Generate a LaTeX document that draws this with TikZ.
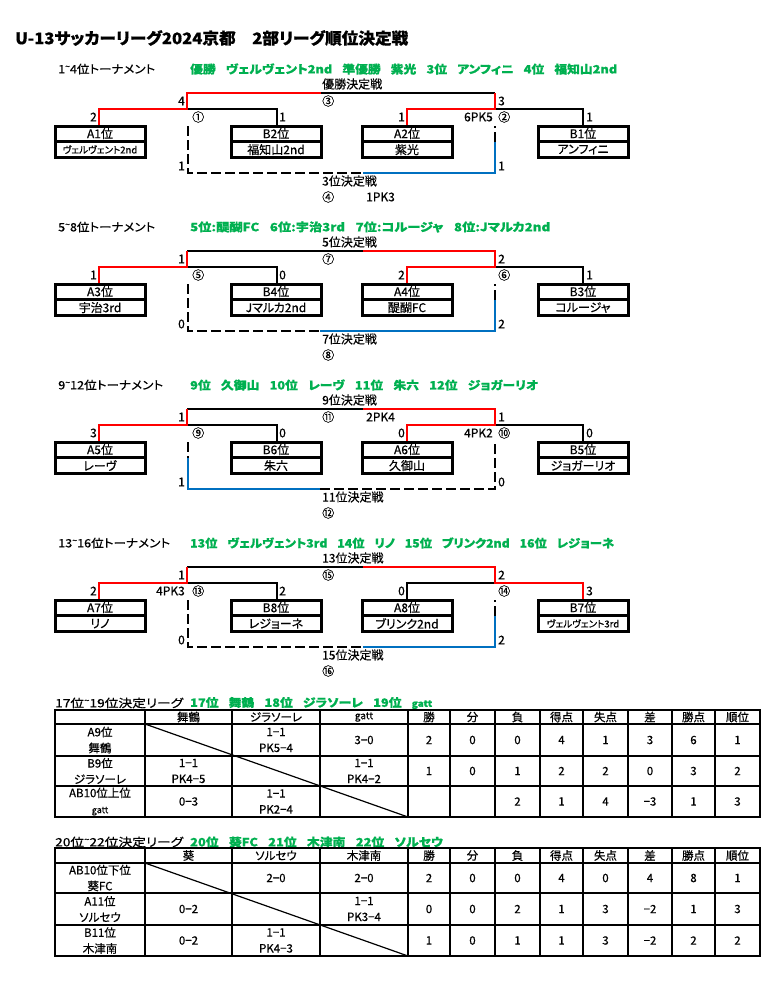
\documentclass[tikz,border=0pt]{standalone}
\usepackage{graphicx}
\usepackage{fontspec}
\setmainfont{Noto Sans CJK JP}[RawFeature={+palt}, FakeBold=0.5]
\definecolor{grn}{RGB}{0,176,80}
\definecolor{blu}{RGB}{0,112,192}
\definecolor{rd}{RGB}{255,0,0}
\newcommand\fs[1]{\fontsize{#1}{#1}\selectfont}
\newcommand\fsb{\fontsize{11.5}{16}\selectfont}
\newcommand\fitw[2]{\sbox0{#2}\pgfmathsetmacro\fitr{#1/(\the\wd0)}\scalebox{\fitr}[1]{\usebox0}}
\newcommand\tld{\raisebox{0.35em}{\fs{8}\char"007E}}
\newcommand\gsp{\hspace{0.8em}}
\newcommand\teambox[5]{%
  \draw[bx] (#2,126) rectangle ++(90,31);
  \draw[bx] (#2,141.5) -- ++(90,0);
  \node[sc] (#1l) at (#2+45,133.6) {#3};
  \node[sc,font=#5] (#1t) at (#2+45,149.6) {#4};
}
\newcommand\statrow[9]{%
  \node[tc] at (429,#1) {#2}; \node[tc] at (472.5,#1) {#3};
  \node[tc] at (517.5,#1) {#4}; \node[tc] at (561.5,#1) {#5};
  \node[tc] at (605.5,#1) {#6}; \node[tc] at (650,#1) {#7};
  \node[tc] at (693.5,#1) {#8}; \node[tc] at (737.5,#1) {#9};
}
\newcommand\gridtable[5]{%
  \foreach \xx in {145,232,320,408,450,495,540,583,628,672,715}
    \draw[tline] (\xx,#1) -- (\xx,#5);
  \foreach \yy in {#2,#3,#4} \draw[tline] (55,\yy) -- (760,\yy);
  \draw[touter] (55,#1) rectangle (760,#5);
  \draw[dline] (145,#2) -- (408,#5);
}
\tikzset{
  blk/.style={line width=1.7pt},
  win/.style={line width=2.8pt, draw=rd},
  thr/.style={line width=1.5pt, draw=blu},
  dsh/.style={line width=2.4pt, dash pattern=on 10pt off 4pt},
  bx/.style={line width=3pt},
  sc/.style={inner sep=0pt, font=\fs{12}},
  hd/.style={inner sep=0pt, anchor=west, font=\fs{11.5}},
  gh/.style={inner sep=0pt, anchor=west, font=\bfseries\fs{11.5}, text=grn},
  tc/.style={inner sep=0pt, font=\fs{11.5}, align=center},
  tc2/.style={inner sep=0pt, font=\fsb, align=center},
  tline/.style={line width=1.9pt},
  touter/.style={line width=2.4pt},
  dline/.style={line width=1.2pt},
}
\begin{document}
\begin{tikzpicture}[x=1pt,y=-1pt]
\fill[white] (0,0) rectangle (770,983);
\useasboundingbox (0,0) rectangle (770,983);
\node[inner sep=0pt, anchor=west, font=\bfseries\fs{16}] (title) at (15,38)
  {\fitw{393}{U-13サッカーリーグ2024京都\hspace{1em}2部リーグ順位決定戦}};

% ---------------- block 1 ----------------
\begin{scope}
\node[hd] (h1) at (58,69) {\fitw{97}{1\tld4位トーナメント}};
\node[gh] (g1) at (190,69) {\fitw{427}{優勝\gsp ヴェルヴェント2nd\gsp 準優勝\gsp 紫光\gsp 3位\gsp アンフィニ\gsp 4位\gsp 福知山2nd}};
\draw[blk] (321,93) -- (495,93);
\draw[blk] (187,109) -- (277,109) -- (277,126);
\draw[blk] (495,109) -- (583,109) -- (583,126);
\draw[win] (99,126) -- (99,109) -- (187,109) -- (187,93) -- (321,93);
\draw[win] (407,126) -- (407,109) -- (495,109) -- (495,93);
\draw[dsh] (188,126) -- (188,173) -- (363,173);
\draw[thr] (363,173) -- (495,173) -- (495,142);
\draw[dsh] (495,142) -- (495,126);
\teambox{a1}{55}{A1位}{ヴェルヴェント2nd}{\fs{9.5}}
\teambox{b2}{231}{B2位}{福知山2nd}{\fs{12}}
\teambox{a2}{362}{A2位}{紫光}{\fs{12}}
\teambox{b1}{538}{B1位}{アンフィニ}{\fs{12}}
\node[sc,anchor=east] (f1l) at (185,101) {4};
\node[sc,anchor=west] (f1r) at (498,101) {3};
\node[sc,anchor=west] (f1n) at (322,84) {優勝決定戦};
\node[sc,anchor=west] (f1c) at (322,101) {③};
\node[sc,anchor=east] (s1a) at (97,117) {2};
\node[sc,anchor=west] (s1c) at (192,117) {①};
\node[sc,anchor=west] (s1b) at (279,117) {1};
\node[sc,anchor=east] (s1d) at (405,117) {1};
\node[sc,anchor=east] (s1p) at (493,117) {6PK5};
\node[sc,anchor=west] (s1e) at (498,117) {②};
\node[sc,anchor=west] (s1f) at (586,117) {1};
\node[sc,anchor=east] (t1l) at (185,166) {1};
\node[sc,anchor=west] (t1r) at (498,166) {1};
\node[sc,anchor=west] (t1n) at (322,181) {3位決定戦};
\node[sc,anchor=west] (t1c) at (322,197) {④};
\node[sc,anchor=west] (t1p) at (366,197) {1PK3};
\end{scope}

% ---------------- block 2 ----------------
\begin{scope}[shift={(0,158)}]
\node[hd] (h2) at (58,69) {\fitw{97}{5\tld8位トーナメント}};
\node[gh] (g2) at (190,69) {\fitw{360}{5位:醍醐FC\gsp 6位:宇治3rd\gsp 7位:コルージャ\gsp 8位:Jマルカ2nd}};
\draw[blk] (187,93) -- (363,93);
\draw[blk] (187,109) -- (277,109) -- (277,126);
\draw[blk] (495,109) -- (583,109) -- (583,126);
\draw[win] (99,126) -- (99,109) -- (187,109) -- (187,93);
\draw[win] (363,93) -- (495,93) -- (495,109) -- (407,109) -- (407,126);
\draw[dsh] (188,126) -- (188,173) -- (320,173);
\draw[thr] (320,173) -- (495,173) -- (495,142);
\draw[dsh] (495,142) -- (495,126);
\teambox{a3}{55}{A3位}{宇治3rd}{\fs{12}}
\teambox{b4}{231}{B4位}{Jマルカ2nd}{\fs{12}}
\teambox{a4}{362}{A4位}{醍醐FC}{\fs{12}}
\teambox{b3}{538}{B3位}{コルージャ}{\fs{12}}
\node[sc,anchor=east] (f2l) at (185,101) {1};
\node[sc,anchor=west] (f2r) at (498,101) {2};
\node[sc,anchor=west] (f2n) at (322,84) {5位決定戦};
\node[sc,anchor=west] (f2c) at (322,101) {⑦};
\node[sc,anchor=east] (s2a) at (97,117) {1};
\node[sc,anchor=west] (s2c) at (192,117) {⑤};
\node[sc,anchor=west] (s2b) at (279,117) {0};
\node[sc,anchor=east] (s2d) at (405,117) {2};
\node[sc,anchor=west] (s2e) at (498,117) {⑥};
\node[sc,anchor=west] (s2f) at (586,117) {1};
\node[sc,anchor=east] (t2l) at (185,166) {0};
\node[sc,anchor=west] (t2r) at (498,166) {2};
\node[sc,anchor=west] (t2n) at (322,181) {7位決定戦};
\node[sc,anchor=west] (t2c) at (322,197) {⑧};
\end{scope}

% ---------------- block 3 ----------------
\begin{scope}[shift={(0,316)}]
\node[hd] (h3) at (58,69) {\fitw{105}{9\tld12位トーナメント}};
\node[gh] (g3) at (190,69) {\fitw{348}{9位\gsp 久御山\gsp 10位\gsp レーヴ\gsp 11位\gsp 朱六\gsp 12位\gsp ジョガーリオ}};
\draw[blk] (187,93) -- (363,93);
\draw[blk] (187,109) -- (277,109) -- (277,126);
\draw[blk] (495,109) -- (583,109) -- (583,126);
\draw[win] (99,126) -- (99,109) -- (187,109) -- (187,93);
\draw[win] (363,93) -- (495,93) -- (495,109) -- (407,109) -- (407,126);
\draw[dsh] (188,126) -- (188,142);
\draw[thr] (188,142) -- (188,173) -- (320,173);
\draw[dsh] (320,173) -- (495,173) -- (495,126);
\teambox{a5}{55}{A5位}{レーヴ}{\fs{12}}
\teambox{b6}{231}{B6位}{朱六}{\fs{12}}
\teambox{a6}{362}{A6位}{久御山}{\fs{12}}
\teambox{b5}{538}{B5位}{ジョガーリオ}{\fs{12}}
\node[sc,anchor=east] (f3l) at (185,101) {1};
\node[sc,anchor=west] (f3r) at (498,101) {1};
\node[sc,anchor=west] (f3n) at (322,84) {9位決定戦};
\node[sc,anchor=west] (f3c) at (322,101) {⑪};
\node[sc,anchor=west] (f3p) at (366,101) {2PK4};
\node[sc,anchor=east] (s3a) at (97,117) {3};
\node[sc,anchor=west] (s3c) at (192,117) {⑨};
\node[sc,anchor=west] (s3b) at (279,117) {0};
\node[sc,anchor=east] (s3d) at (405,117) {0};
\node[sc,anchor=east] (s3p) at (493,117) {4PK2};
\node[sc,anchor=west] (s3e) at (498,117) {⑩};
\node[sc,anchor=west] (s3f) at (586,117) {0};
\node[sc,anchor=east] (t3l) at (185,166) {1};
\node[sc,anchor=west] (t3r) at (498,166) {0};
\node[sc,anchor=west] (t3n) at (322,181) {11位決定戦};
\node[sc,anchor=west] (t3c) at (322,197) {⑫};
\end{scope}

% ---------------- block 4 ----------------
\begin{scope}[shift={(0,474)}]
\node[hd] (h4) at (58,69) {\fitw{112}{13\tld16位トーナメント}};
\node[gh] (g4) at (190,69) {\fitw{424}{13位\gsp ヴェルヴェント3rd\gsp 14位\gsp リノ\gsp 15位\gsp ブリンク2nd\gsp 16位\gsp レジョーネ}};
\draw[blk] (187,93) -- (363,93);
\draw[blk] (187,109) -- (277,109) -- (277,126);
\draw[blk] (495,109) -- (407,109) -- (407,126);
\draw[win] (99,126) -- (99,109) -- (187,109) -- (187,93);
\draw[win] (363,93) -- (495,93) -- (495,109) -- (583,109) -- (583,126);
\draw[dsh] (188,126) -- (188,173) -- (363,173);
\draw[thr] (363,173) -- (495,173) -- (495,142);
\draw[dsh] (495,142) -- (495,126);
\teambox{a7}{55}{A7位}{リノ}{\fs{12}}
\teambox{b8}{231}{B8位}{レジョーネ}{\fs{12}}
\teambox{a8}{362}{A8位}{ブリンク2nd}{\fs{12}}
\teambox{b7}{538}{B7位}{ヴェルヴェント3rd}{\fs{9.5}}
\node[sc,anchor=east] (f4l) at (185,101) {1};
\node[sc,anchor=west] (f4r) at (498,101) {2};
\node[sc,anchor=west] (f4n) at (322,84) {13位決定戦};
\node[sc,anchor=west] (f4c) at (322,101) {⑮};
\node[sc,anchor=east] (s4a) at (97,117) {2};
\node[sc,anchor=east] (s4p) at (185,117) {4PK3};
\node[sc,anchor=west] (s4c) at (192,117) {⑬};
\node[sc,anchor=west] (s4b) at (279,117) {2};
\node[sc,anchor=east] (s4d) at (405,117) {0};
\node[sc,anchor=west] (s4e) at (498,117) {⑭};
\node[sc,anchor=west] (s4f) at (586,117) {3};
\node[sc,anchor=east] (t4l) at (185,166) {0};
\node[sc,anchor=west] (t4r) at (498,166) {2};
\node[sc,anchor=west] (t4n) at (322,181) {15位決定戦};
\node[sc,anchor=west] (t4c) at (322,197) {⑯};
\end{scope}

% ---------------- table 1 ----------------
\node[hd] (lt1) at (55,703) {\fitw{128}{17位\tld19位決定リーグ}};
\node[gh] (lg1) at (190,703) {\fitw{242}{17位\gsp 舞鶴\gsp 18位\gsp ジラソーレ\gsp 19位\gsp {\fs{9}gatt}}};
\gridtable{710}{724}{756}{786}{817}
\node[tc] (t1h2) at (188.5,717) {舞鶴};
\node[tc] (t1h3) at (276,717) {ジラソーレ};
\node[tc,font=\fs{10}] (t1h4) at (364,717) {gatt};
\statrow{717}{勝}{分}{負}{得点}{失点}{差}{勝点}{順位}
\node[tc2] (t1a) at (100,740) {A9位\\舞鶴};
\node[tc2] (t1b) at (276,740) {1−1\\PK5−4};
\node[tc] (t1c) at (364,740) {3−0};
\statrow{740}{2}{0}{0}{4}{1}{3}{6}{1}
\node[tc2] (t1d) at (100,771) {B9位\\ジラソーレ};
\node[tc2] (t1e) at (188.5,771) {1−1\\PK4−5};
\node[tc2] (t1f) at (364,771) {1−1\\PK4−2};
\statrow{771}{1}{0}{1}{2}{2}{0}{3}{2}
\node[tc2] (t1g) at (100,801.5) {AB10位上位\\{\fs{9}gatt}};
\node[tc] (t1h) at (188.5,801.5) {0−3};
\node[tc2] (t1i) at (276,801.5) {1−1\\PK2−4};
\statrow{801.5}{}{}{2}{1}{4}{−3}{1}{3}

% ---------------- table 2 ----------------
\node[hd] (lt2) at (55,842) {\fitw{128}{20位\tld22位決定リーグ}};
\node[gh] (lg2) at (190,842) {\fitw{253}{20位\gsp 葵FC\gsp 21位\gsp 木津南\gsp 22位\gsp ソルセウ}};
\gridtable{848}{863}{893}{925}{956}
\node[tc] (t2h2) at (188.5,855.5) {葵};
\node[tc] (t2h3) at (276,855.5) {ソルセウ};
\node[tc] (t2h4) at (364,855.5) {木津南};
\statrow{855.5}{勝}{分}{負}{得点}{失点}{差}{勝点}{順位}
\node[tc2] (t2a) at (100,878) {AB10位下位\\葵FC};
\node[tc] (t2b) at (276,878) {2−0};
\node[tc] (t2c) at (364,878) {2−0};
\statrow{878}{2}{0}{0}{4}{0}{4}{8}{1}
\node[tc2] (t2d) at (100,909) {A11位\\ソルセウ};
\node[tc] (t2e) at (188.5,909) {0−2};
\node[tc2] (t2f) at (364,909) {1−1\\PK3−4};
\statrow{909}{0}{0}{2}{1}{3}{−2}{1}{3}
\node[tc2] (t2g) at (100,940.5) {B11位\\木津南};
\node[tc] (t2h) at (188.5,940.5) {0−2};
\node[tc2] (t2i) at (276,940.5) {1−1\\PK4−3};
\statrow{940.5}{1}{0}{1}{1}{3}{−2}{2}{2}
\end{tikzpicture}
\end{document}
